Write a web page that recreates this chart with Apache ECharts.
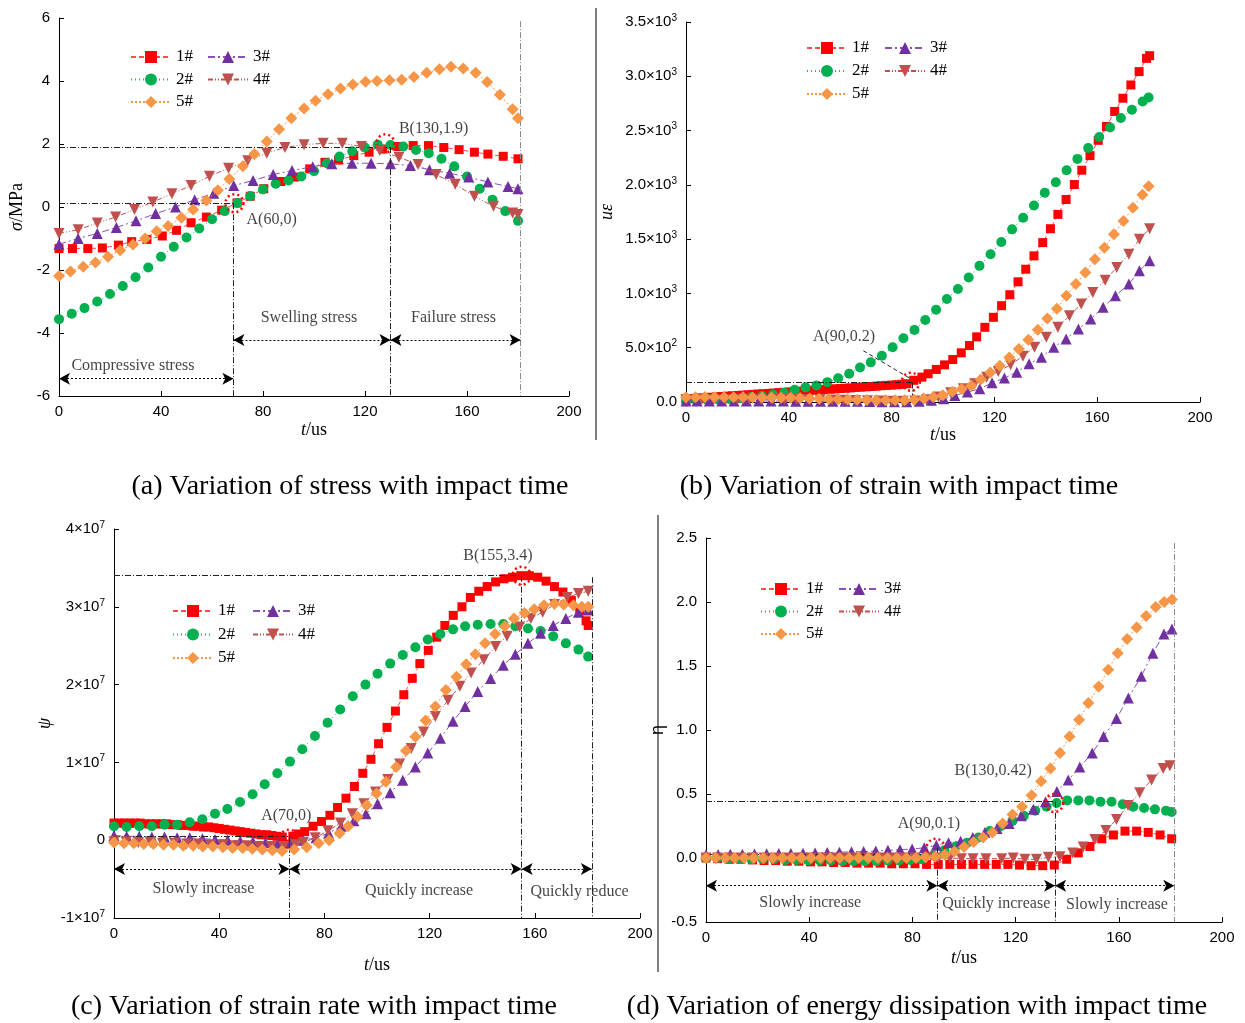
<!DOCTYPE html>
<html><head><meta charset="utf-8">
<script src="https://cdn.jsdelivr.net/npm/echarts/dist/echarts.min.js"></script>
<style>html,body{margin:0;padding:0;background:#fff}#c{width:1245px;height:1023px}</style>
</head><body><div id="c"></div>
<script>
// ---------- (a) stress ----------
const tA1 = [0,5.3,11.3,17,23.3,28.5,34.5,40.5,46.1,51.8,57.8,63.8,69.8,75,80.3,87,92.3,98.3,104.3,109.6,115.6,121.6,126.9,132.9,138.9,144.9,150.9,156.9,162.9,168.2,174.2,180];
const vA1 = [-1.32,-1.32,-1.32,-1.3,-1.21,-1.1,-1.03,-0.92,-0.74,-0.5,-0.32,-0.1,0.13,0.34,0.58,0.81,0.95,1.21,1.42,1.49,1.63,1.74,1.84,1.92,1.95,1.95,1.89,1.82,1.74,1.68,1.61,1.53];
const tA2 = [0,5,10,15,20,25,30,35,40,45,50,55,60,65,70,75,80,85,90,95,100,105,110,115,120,125,130,135,140,145,150,155,160,165,170,175,180];
const vA2 = [-3.56,-3.39,-3.21,-3.0,-2.76,-2.51,-2.23,-1.92,-1.58,-1.26,-0.97,-0.68,-0.39,-0.13,0.13,0.35,0.56,0.74,0.84,0.97,1.14,1.39,1.6,1.77,1.89,1.98,1.97,1.92,1.81,1.71,1.53,1.29,0.97,0.58,0.23,-0.13,-0.44];
const tA3 = [0,7.5,15,22.5,30.2,37.9,45.7,53.2,60.7,68.5,76.1,84,91.4,99.5,107,114.9,122.4,130,137.8,145.3,153.2,160.7,168.2,176.1,180];
const vA3 = [-1.18,-1.0,-0.84,-0.65,-0.44,-0.21,0.0,0.23,0.44,0.68,0.84,1.03,1.16,1.28,1.37,1.39,1.39,1.37,1.32,1.18,1.07,0.95,0.79,0.65,0.58];
const tA4 = [0,7.5,15,22.2,29.6,36.8,44.3,51.8,59,66.5,74,81.5,88.6,96.1,103.6,111.1,118.6,125.8,133.3,140.8,147.9,155.4,162.9,170.4,177.9,180];
const vA4 = [-0.84,-0.72,-0.51,-0.32,-0.08,0.16,0.42,0.68,0.98,1.23,1.47,1.71,1.89,1.98,2.02,2.02,1.92,1.79,1.58,1.35,1.03,0.72,0.34,0.02,-0.19,-0.24];
const tA5 = [0,4.5,9.5,14.3,19.2,24,29,33.8,38.3,42.8,48,52.6,57.8,62.3,66.8,72.1,76.6,81.5,86.3,91.1,96.1,100.6,105.5,110.4,115.2,120.2,124.7,129.6,134.4,139.2,144.2,149.2,153.7,158.5,163.4,167.9,172.9,177.9,180];
const vA5 = [-2.19,-2.05,-1.9,-1.76,-1.58,-1.37,-1.19,-1.0,-0.77,-0.6,-0.34,-0.08,0.21,0.53,0.89,1.29,1.68,2.08,2.47,2.82,3.13,3.37,3.58,3.76,3.89,3.98,4.0,4.02,4.04,4.13,4.26,4.37,4.45,4.4,4.26,3.97,3.56,3.1,2.82];

// ---------- (b) strain ----------
const tB1 = [0,2,4,6,8,10,12,14,16,18,20,22,24,26,28,30,32,34,36,38,40,42,44,46,48,50,52,54,56,58,60,62,64,66,68,70,72,74,76,78,80,82,84,86,88.6,91.8,94.2,97.4,100.6,103.8,107.1,110.3,113.1,116.3,119.6,122.8,126,129.2,132.2,135.4,138.8,141.8,144.7,147.9,151.1,154,157.2,160.4,163.6,166.8,170,173.1,176.3,179.2,180.4];
const vB1 = [28,31,34,38,41,44,47,50,54,57,60,63,66,70,73,76,79,82,86,89,92,95,98,102,105,108,111,114,118,121,124,127,130,134,137,140,143,146,150,153,156,159,163,168,200,229,260,300,342,391,453,520,600,688,780,887,988,1107,1223,1346,1468,1596,1728,1865,2003,2135,2269,2410,2538,2676,2798,2920,3043,3165,3190];
const tB2 = [0,4.2,8.5,12.7,16.9,21.2,25.4,29.6,33.9,38.1,42.3,46.5,50.8,55,59.2,63.5,67.7,71.9,76.2,80.4,84.6,88.9,93.1,97.3,101.5,105.8,110,114.2,118.5,122.7,126.9,131.2,135.4,139.6,143.9,148.1,152.3,156.5,160.8,165,169.2,173.5,177.7,180];
const vB2 = [5,10,15,22,28,35,45,55,68,85,112,135,153,183,218,260,318,365,426,505,587,664,755,850,948,1040,1147,1254,1361,1474,1590,1697,1810,1927,2024,2135,2239,2339,2440,2529,2615,2691,2768,2804];
const tB3 = [0,4.3,9.1,13.9,18.7,23.5,28.3,33.1,37.9,42.7,47.5,52.3,57.1,61.9,66.7,71.5,76.3,81.1,85.9,90.7,95.5,100.3,104.6,109.5,114.3,119.1,123.9,128.7,133.5,138.3,143.1,147.9,152.7,157.5,162.3,167.1,172.3,176.4,180.4];
const vB3 = [10,10,10,10,10,10,10,9,9,8,8,8,8,7,6,5,3,2,3,8,15,31,61,92,122,177,220,275,352,413,505,581,673,765,872,979,1086,1208,1300];
const tB4 = [0,6.2,10.8,15.4,20,24.6,29.2,33.8,38.4,43,47.6,52.2,56.8,61.4,66,70.6,75.2,79.8,84.4,89,93.6,98.2,103,107.9,112.3,117,121.5,126.3,131.1,135.6,140.2,144.7,149.2,153.8,158.3,163.1,167.6,172.3,176.4,180.4];
const vB4 = [22,22,22,22,22,22,22,22,22,22,22,20,18,16,14,12,10,8,8,10,20,46,86,122,168,229,281,343,422,505,596,688,795,902,1009,1122,1239,1361,1498,1596];
const tB5 = [0,3.7,7.4,11.1,14.8,18.5,22.2,25.9,29.6,33.3,37,40.7,44.4,48.1,51.8,55.5,59.2,62.9,66.6,70.3,74,77.7,81.4,85.1,88.8,92.5,96.2,99.9,103.6,107.3,111,114.7,118.4,122.1,125.8,129.5,133.2,136.9,140.6,144.3,148,151.7,155.4,159.1,162.8,166.5,170.2,173.9,177.6,180];
const vB5 = [44,44,45,44,44,43,43,42,42,41,40,38,36,33,30,28,25,22,20,18,16,15,15,16,20,32,46,62,95,120,150,207,272,333,409,489,574,665,768,860,979,1086,1192,1314,1421,1546,1668,1788,1908,1988];

// ---------- (c) strain rate (x10^7) ----------
const tC1 = [0,2,4,6,8,10,12,14,16,18,20,22,24,26,28,30,32,34,36,38,40,42,44,46,48,50,52,54,56,58,60,62,64,66,68,70,72.5,75.7,78.9,82.1,85,88.2,91.4,94.6,97.7,100.6,103.8,107,110.2,113.4,116.3,119.5,122.7,125.8,129,132.3,135.5,138.7,141.9,145.1,148.3,151.5,154.7,157.9,161.1,164.3,167.5,170.7,173.9,177.1,179.5,180.3];
const vC1 = [0.22,0.22,0.22,0.22,0.22,0.22,0.21,0.21,0.21,0.21,0.21,0.2,0.2,0.19,0.19,0.18,0.18,0.17,0.17,0.16,0.15,0.14,0.13,0.12,0.11,0.1,0.09,0.08,0.07,0.07,0.06,0.05,0.04,-0.05,0.05,0.08,0.11,0.18,0.24,0.32,0.42,0.54,0.69,0.86,1.04,1.24,1.45,1.66,1.87,2.08,2.27,2.44,2.61,2.76,2.89,3.0,3.12,3.2,3.26,3.32,3.36,3.38,3.4,3.4,3.38,3.33,3.26,3.19,3.08,2.95,2.82,2.76];
const tC2 = [0,4.8,9.6,14.4,19.2,24,28.8,33.6,38.4,43.1,47.9,52.7,57.3,62.1,66.9,71.6,76.4,81.2,86,90.8,95.6,100.2,105,109.8,114.6,119.3,124.1,128.9,133.5,138.3,143.2,148,152.6,157.4,162.2,167,171.8,176.6,180.3];
const vC2 = [0.18,0.17,0.18,0.18,0.2,0.2,0.23,0.27,0.34,0.4,0.49,0.59,0.72,0.86,1.01,1.17,1.34,1.51,1.68,1.85,2.0,2.14,2.27,2.38,2.48,2.58,2.65,2.71,2.75,2.77,2.78,2.78,2.75,2.72,2.69,2.62,2.53,2.45,2.36];
const tC3 = [0,4.8,9.6,14.4,19.2,24,28.8,33.6,38.4,43.2,48,52.8,57.6,62.4,67.2,72,76.8,81.6,86.4,91.2,95.8,100.2,105,109.8,114.6,119.3,124.1,128.9,133.5,138.3,143.2,148,152.6,157.4,162.2,167,171.8,176.6,180.3];
const vC3 = [0.06,0.05,0.05,0.04,0.04,0.03,0.03,0.02,0.01,0.0,-0.01,-0.02,-0.03,-0.04,-0.03,0.0,0.03,0.09,0.18,0.25,0.34,0.47,0.61,0.77,0.94,1.12,1.31,1.53,1.72,1.91,2.08,2.25,2.39,2.53,2.66,2.76,2.85,2.93,2.96];
const tC4 = [0,4.6,9.2,13.8,18.4,23,27.6,32.2,36.8,41.4,46,50.6,55.2,59.8,64.4,69,72,76.5,81.3,86.1,90.6,95,99.4,104.1,108.6,113,117.7,122.2,127,131.5,135.8,140.6,145.1,149.4,154.2,158.5,163,167.5,172.3,176.6,180.3];
const vC4 = [-0.02,-0.02,-0.03,-0.03,-0.04,-0.04,-0.05,-0.05,-0.06,-0.06,-0.07,-0.07,-0.08,-0.08,-0.08,-0.06,-0.03,0.03,0.12,0.22,0.34,0.47,0.62,0.78,0.98,1.18,1.39,1.59,1.8,1.98,2.15,2.32,2.49,2.62,2.74,2.85,2.93,3.03,3.12,3.17,3.2];
const tC5 = [0,3.8,7.5,11.3,15,18.8,22.6,26.3,30.1,33.8,37.6,41.4,45.1,48.9,52.6,56.4,60.2,63.9,68.5,73.3,77.8,81.8,85.8,89,92.6,96.1,99.8,103.4,107.3,111,114.6,118.5,122.2,126.2,130.2,133.9,137.4,141.1,144.9,148.6,152.1,156.1,159.8,163.5,167.5,171,174.7,177.9,180.3];
const vC5 = [-0.03,-0.04,-0.04,-0.05,-0.05,-0.06,-0.06,-0.07,-0.07,-0.08,-0.08,-0.09,-0.1,-0.1,-0.11,-0.12,-0.13,-0.14,-0.12,-0.09,-0.04,0.0,0.09,0.18,0.3,0.45,0.6,0.75,0.94,1.15,1.33,1.54,1.72,1.93,2.1,2.26,2.39,2.53,2.65,2.75,2.85,2.92,2.97,3.02,3.04,3.03,3.02,3.0,3.0];

// ---------- (d) energy dissipation ----------
const tD1 = [0,4.5,9,13.5,18,22.5,27,31.5,36,40.5,45,49.5,54,58.5,63,67.5,72,76.5,81,85.5,90,94.5,99,103.5,108,112.5,117,121.5,126,130.5,135,139.8,144.3,148.8,153.4,157.9,162.4,166.9,171.4,176,180.5];
const vD1 = [0.0,-0.005,-0.01,-0.01,-0.015,-0.02,-0.02,-0.025,-0.025,-0.03,-0.03,-0.035,-0.035,-0.04,-0.04,-0.04,-0.045,-0.045,-0.045,-0.05,-0.05,-0.05,-0.05,-0.05,-0.05,-0.05,-0.05,-0.055,-0.06,-0.06,-0.055,-0.01,0.04,0.09,0.15,0.18,0.21,0.21,0.2,0.18,0.15];
const tD2 = [0,4.4,8.8,13.2,17.6,22,26.4,30.8,35.2,39.6,44,48.4,52.8,57.2,61.6,66,70.4,74.8,79.2,83.6,88,92.4,96.8,101.2,105.6,110,114.4,118.8,123.2,127.6,132,135.9,140,144.3,148.6,152.9,157.2,161.5,165.6,169.8,174,178.3,180.5];
const vD2 = [0.0,0.0,-0.005,-0.005,-0.01,-0.01,-0.01,-0.015,-0.015,-0.02,-0.02,-0.02,-0.025,-0.025,-0.025,-0.025,-0.02,-0.02,-0.015,-0.01,0.02,0.06,0.09,0.12,0.16,0.21,0.25,0.29,0.33,0.37,0.4,0.43,0.45,0.45,0.45,0.44,0.44,0.42,0.40,0.39,0.38,0.37,0.36];
const tD3 = [0,4.7,9.4,14.1,18.8,23.5,28.2,32.9,37.6,42.3,47,51.7,56.4,61.1,65.8,70.5,75.2,79.9,84.6,89.3,94,98.7,103.4,108.1,112.8,117.5,122.2,126.9,131.6,136,140.4,144.9,149.7,154.1,159.1,163.7,168.7,173.2,177.5,180.6];
const vD3 = [0.026,0.028,0.03,0.03,0.032,0.034,0.035,0.036,0.038,0.04,0.042,0.045,0.048,0.05,0.055,0.06,0.065,0.07,0.08,0.1,0.12,0.13,0.16,0.2,0.23,0.27,0.33,0.38,0.44,0.52,0.61,0.71,0.82,0.95,1.09,1.25,1.42,1.6,1.75,1.79];
const tD4 = [0,4.5,9,13.5,18,22.5,27,31.5,36,40.5,45,49.5,54,58.5,63,67.5,72,76.5,81,85.5,90,94.5,99,103.5,108.5,114.6,119.1,123.6,128.1,132.7,137.2,142.1,146.2,150.7,155,159.1,163.6,168.1,172.7,177.2,179.8];
const vD4 = [0,0,0,0,0,0,0,0,0,0,0,0,0,0,0,0,0,0,0,0,0,0,-0.005,-0.005,-0.005,-0.005,0,-0.01,-0.01,0.005,0.01,0.04,0.085,0.145,0.215,0.3,0.41,0.51,0.61,0.7,0.72];
const tD5 = [0,3.7,7.4,11.1,14.8,18.5,22.2,25.9,29.6,33.3,37,40.7,44.4,48.1,51.8,55.5,59.2,62.9,66.6,70.3,74,77.7,81.4,85.1,88.8,92.6,96.3,100,103.7,107.4,111,115,118.8,122.5,126.2,129.9,133.5,137.2,140.9,144.6,148.2,152.2,155.9,159.6,163.2,166.9,170.6,174.3,177.6,180.6];
const vD5 = [0,0,0,0,0,0,0,0,0,0,0,0,0,0,0,0,0,0,0,0,0,0,0,0.005,0.01,0.026,0.05,0.086,0.125,0.16,0.2,0.27,0.34,0.4,0.49,0.6,0.7,0.82,0.95,1.08,1.21,1.34,1.47,1.6,1.71,1.8,1.89,1.96,2.0,2.02];

const seriesNames = ['1#','2#','3#','4#','5#'];
const xTicks = [0,40,80,120,160,200];

// ---------- annotations (data coordinates) ----------
const refA = [[[0,1.9],[130,1.9]],[[0,0.12],[68.4,0.12]],[[68.4,0.12],[68.4,-6]],[[130,1.9],[130,-6]]];
const endA = [[[181,5.9],[181,-6]]];
const arrA = [[[0,-5.45],[68.4,-5.45]],[[68.4,-4.22],[130,-4.22]],[[130,-4.22],[181,-4.22]]];
const txtA = [['Compressive stress',29,-5.05],['Swelling stress',98,-3.53],['Failure stress',154.7,-3.53],['A(60,0)',83.4,-0.41],['B(130,1.9)',146.9,2.47]];
const cirA = [[68.8,0.12],[128,2.02]];

const refB = [[[0,180],[88,180]],[[88,180],[88,0]]];
const leadB = [[[69,472],[87,220]]];
const txtB = [['A(90,0.2)',61.5,596]];
const cirB = [[87.5,187]];

const refC = [[[0,3.4],[155,3.4]],[[155,3.4],[155,-1]],[[0,0.055],[66.7,0.055]],[[66.7,0.055],[66.7,-1]],[[181.7,3.38],[181.7,-1]]];
const arrC = [[[0,-0.37],[66.7,-0.37]],[[66.7,-0.37],[155,-0.37]],[[155,-0.37],[181.7,-0.37]]];
const txtC = [['Slowly increase',34,-0.63],['Quickly increase',116,-0.65],['Quickly reduce',177,-0.66],['A(70,0)',65.5,0.31],['B(155,3.4)',146,3.66]];
const cirC = [[66.5,0.02],[155,3.4]];

const refD = [[[0,0.44],[135.3,0.44]],[[135.3,0.44],[135.3,-0.5]],[[0,0.03],[89.7,0.03]],[[89.7,0.08],[89.7,-0.5]]];
const endD = [[[181.5,2.46],[181.5,-0.5]]];
const arrD = [[[0,-0.216],[89.7,-0.216]],[[89.7,-0.216],[135.3,-0.216]],[[135.3,-0.216],[181.5,-0.216]]];
const txtD = [['Slowly increase',40.4,-0.35],['Quickly increase',112.5,-0.36],['Slowly increase',159.3,-0.365]
  ,['A(90,0.1)',86.4,0.266],['B(130,0.42)',111.3,0.685]];
const cirD = [[89,0.08],[135,0.43]];

const captions = ['(a) Variation of stress with impact time','(b) Variation of strain with impact time','(c) Variation of strain rate with impact time','(d) Variation of energy dissipation with impact time'];

// ---------- build ----------
const SERIF = 'Liberation Serif', SANS = 'Liberation Sans';
const zip = (t, v) => t.map((x, i) => [x, v[i]]);
const panels = [
  [zip(tA1,vA1),zip(tA2,vA2),zip(tA3,vA3),zip(tA4,vA4),zip(tA5,vA5)],
  [zip(tB1,vB1),zip(tB2,vB2),zip(tB3,vB3),zip(tB4,vB4),zip(tB5,vB5)],
  [zip(tC1,vC1),zip(tC2,vC2),zip(tC3,vC3),zip(tC4,vC4),zip(tC5,vC5)],
  [zip(tD1,vD1),zip(tD2,vD2),zip(tD3,vD3),zip(tD4,vD4),zip(tD5,vD5)]
];
const sty = [
  {symbol:'rect', size:9, color:'#ff0000', line:'#ff4a4a', dash:[5,3]},
  {symbol:'circle', size:10, color:'#00b050', line:'#1fb863', dash:[1,3]},
  {symbol:'triangle', size:11, color:'#7030a0', line:'#8a50b8', dash:[7,3,2,3]},
  {symbol:'triangle', size:11, rotate:180, color:'#c0504d', line:'#c0504d', dash:[5,2,1,2,1,2]},
  {symbol:'diamond', size:12, color:'#f79646', line:'#f79646', dash:[2,2]}
];
const grids = [
  {left:59, top:18, width:510, height:378},
  {left:686, top:22, width:514, height:380},
  {left:114, top:529, width:526, height:389},
  {left:706, top:538, width:516, height:384}
];
const xGap = [25, 14, 38, 27];
const axisCommon = {
  axisLine:{onZero:false, lineStyle:{color:'#000', width:1}},
  axisTick:{inside:true, length:5, lineStyle:{color:'#000'}},
  splitLine:{show:false}
};
const sup = (base, e) => '{n|' + base + '×10}{s|' + e + '}';
const rich = {n:{fontFamily:SANS, fontSize:15, color:'#000'}, s:{fontFamily:SANS, fontSize:10, color:'#000', padding:[0,0,8,0]}};
const xAxes = grids.map((g, i) => Object.assign({}, axisCommon, {
  type:'value', gridIndex:i, min:xTicks[0], max:xTicks[xTicks.length-1], interval:40,
  name:'{i|t}/us', nameLocation:'middle', nameGap:xGap[i],
  nameTextStyle:{fontFamily:SERIF, fontSize:18, color:'#000', rich:{i:{fontFamily:SERIF, fontSize:18, fontStyle:'italic', color:'#000'}}},
  axisLabel:{fontFamily:SANS, fontSize:15, color:'#000', margin:8}
}));
const yAxes = [
  Object.assign({}, axisCommon, {type:'value', gridIndex:0, min:-6, max:6, interval:2,
    name:'{i|σ}/MPa', nameLocation:'middle', nameGap:33,
    nameTextStyle:{fontFamily:SERIF, fontSize:18, color:'#000', rich:{i:{fontFamily:SERIF, fontSize:18, fontStyle:'italic', color:'#000'}}},
    axisLabel:{fontFamily:SANS, fontSize:15, color:'#000', margin:9}}),
  Object.assign({}, axisCommon, {type:'value', gridIndex:1, min:0, max:3500, interval:500,
    name:'{i|uε}', nameLocation:'middle', nameGap:70,
    nameTextStyle:{fontFamily:SERIF, fontSize:18, color:'#000', rich:{i:{fontFamily:SERIF, fontSize:18, fontStyle:'italic', color:'#000'}}},
    axisLabel:{fontFamily:SANS, fontSize:15, color:'#000', margin:9, rich:rich,
      formatter: v => v === 0 ? '{n|0.0}' : (v < 1000 ? sup((v/100).toFixed(1), 2) : sup((v/1000).toFixed(1), 3))}}),
  Object.assign({}, axisCommon, {type:'value', gridIndex:2, min:-1, max:4, interval:1,
    name:'{i|ψ}', nameLocation:'middle', nameGap:60,
    nameTextStyle:{fontFamily:SERIF, fontSize:18, color:'#000', rich:{i:{fontFamily:SERIF, fontSize:18, fontStyle:'italic', color:'#000'}}},
    axisLabel:{fontFamily:SANS, fontSize:15, color:'#000', margin:9, rich:rich,
      formatter: v => v === 0 ? '{n|0}' : sup(String(v), 7)}}),
  Object.assign({}, axisCommon, {type:'value', gridIndex:3, min:-0.5, max:2.5, interval:0.5,
    name:'η', nameLocation:'middle', nameGap:21,
    nameTextStyle:{fontFamily:SANS, fontSize:18, color:'#000'},
    axisLabel:{fontFamily:SANS, fontSize:15, color:'#000', margin:9, formatter: v => v.toFixed(1)}})
];

const series = [];
panels.forEach((pd, g) => {
  pd.forEach((d, k) => {
    const s = sty[k];
    series.push({
      type:'line', name:seriesNames[k], xAxisIndex:g, yAxisIndex:g, data:d,
      symbol:s.symbol, symbolSize:s.size, symbolRotate:s.rotate || 0, showAllSymbol:true,
      itemStyle:{color:s.color}, lineStyle:{color:s.line, width:1, type:s.dash},
      z:2 + k, silent:true
    });
  });
});

const lineSet = (list, extra) => list.map(p => [Object.assign({coord:p[0]}, extra || {}), {coord:p[1]}]);
function annot(g, refs, ends, arrows, leads, texts, circles) {
  const refData = lineSet(refs).concat(lineSet(ends || [], {lineStyle:{color:'#8a8a8a', width:1, type:[6,2,1,2]}}))
    .concat(lineSet(leads || [], {lineStyle:{color:'#222', width:1, type:[4,3]}}));
  series.push({
    type:'line', xAxisIndex:g, yAxisIndex:g, data:[], silent:true, z:8,
    markLine:{silent:true, animation:false, symbol:['none','none'], label:{show:false},
      lineStyle:{color:'#222', width:1, type:[6,2,1,2]}, data:refData}
  });
  if (arrows && arrows.length) series.push({
    type:'line', xAxisIndex:g, yAxisIndex:g, data:[], silent:true, z:8,
    markLine:{silent:true, animation:false, symbol:['arrow','arrow'], symbolSize:[9,11], label:{show:false},
      lineStyle:{color:'#000', width:1, type:[2,2]}, data:lineSet(arrows)}
  });
  series.push({
    type:'scatter', xAxisIndex:g, yAxisIndex:g, silent:true, z:9, symbolSize:0,
    data: texts.map(t => ({name:t[0], value:[t[1], t[2]]})),
    label:{show:true, position:'inside', formatter:'{b}', color:'#111', fontFamily:SERIF, fontSize:16},
    markPoint:{silent:true, animation:false, symbol:'circle', symbolSize:18, label:{show:false},
      itemStyle:{color:'rgba(0,0,0,0)', borderColor:'#ff0000', borderWidth:2.5, borderType:[2,3]},
      data: circles.map(c => ({coord:c}))}
  });
}
annot(0, refA, endA, arrA, null, txtA, cirA);
annot(1, refB, null, null, leadB, txtB, cirB);
annot(2, refC, null, arrC, null, txtC, cirC);
annot(3, refD, endD, arrD, null, txtD, cirD);

// legend: [left col1, first-row centre y, left col2, row step]
const legPos = [[130,57,207,22.5],[806,48,884,23],[172,611,252,23.5],[760,589,838,22.5]];
const legends = [];
legPos.forEach(p => {
  const base = {orient:'vertical', top:p[1] - 8.5, padding:0, itemWidth:40, itemHeight:15, itemGap:p[3] - 17, selectedMode:false,
    textStyle:{fontFamily:SERIF, fontSize:17, color:'#000'}};
  legends.push(Object.assign({}, base, {left:p[0], data:['1#','2#','5#']}));
  legends.push(Object.assign({}, base, {left:p[2], data:['3#','4#']}));
});

const capPos = [[350,487],[899,487],[314,1007],[917,1007]];
const graphic = capPos.map((p, i) => ({
  type:'text', x:p[0], y:p[1], silent:true,
  style:{text:captions[i], fontFamily:SERIF, fontSize:28, fill:'#000', textAlign:'center', textVerticalAlign:'middle'}
})).concat([
  {type:'line', silent:true, shape:{x1:596, y1:8, x2:596, y2:440}, style:{stroke:'#000', lineWidth:1}},
  {type:'line', silent:true, shape:{x1:658, y1:515, x2:658, y2:972}, style:{stroke:'#000', lineWidth:1}}
]);

const chart = echarts.init(document.getElementById('c'), null, {renderer:'canvas'});
chart.setOption({
  backgroundColor:'#fff', animation:false,
  grid:grids, xAxis:xAxes, yAxis:yAxes, legend:legends, series:series, graphic:graphic
});
</script></body></html>
